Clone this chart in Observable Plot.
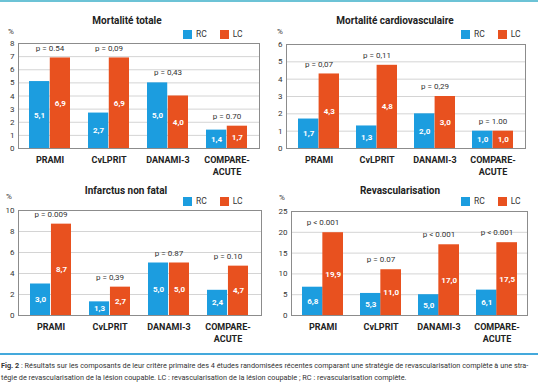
<!DOCTYPE html>
<html>
<head>
<meta charset="utf-8">
<script src="https://cdn.jsdelivr.net/npm/d3@7"></script>
<script src="https://cdn.jsdelivr.net/npm/@observablehq/plot@0.6"></script>
<style>
  html, body { margin: 0; padding: 0; background: #fff; }
  #root { position: relative; width: 538px; height: 384px; overflow: hidden; font-family: Roboto, "DejaVu Sans", sans-serif; color: #222; }
  .abs { position: absolute; }
  .title { font-weight: bold; font-size: 10px; color: #222; white-space: nowrap; transform: translate(-50%, -50%); }
  .pct { font-size: 8px; color: #333; transform: translate(-50%, -50%); }
  .leg { font-size: 8.5px; color: #333; display: flex; align-items: center; white-space: nowrap; transform: translateY(-50%); }
  .sw { display: inline-block; width: 9px; height: 9px; margin-right: 4px; }
  .caption { font-size: 7.3px; color: #333; white-space: nowrap; }
</style>
</head>
<body>
<div id="root"></div>
<script>
// ---------- data ----------
const categories = ["PRAMI", "CvLPRIT", "DANAMI-3", "COMPARE-ACUTE"];
const categoryLabels = ["PRAMI", "CvLPRIT", "DANAMI-3", "COMPARE-\nACUTE"];
const seriesNames = ["RC", "LC"];
const panelTitles = ["Mortalité totale", "Mortalité cardiovasculaire", "Infarctus non fatal", "Revascularisation"];

const mortTotaleRC = [5.1, 2.7, 5.0, 1.4];
const mortTotaleLC = [6.9, 6.9, 4.0, 1.7];
const mortTotaleP = ["p = 0.54", "p = 0,09", "p = 0,43", "p = 0.70"];
const mortTotaleTicks = [0, 1, 2, 3, 4, 5, 6, 7, 8];

const mortCardioRC = [1.7, 1.3, 2.0, 1.0];
const mortCardioLC = [4.3, 4.8, 3.0, 1.0];
const mortCardioP = ["p = 0,07", "p = 0,11", "p = 0,29", "p = 1.00"];
const mortCardioTicks = [0, 1, 2, 3, 4, 5, 6];

const infarctusRC = [3.0, 1.3, 5.0, 2.4];
const infarctusLC = [8.7, 2.7, 5.0, 4.7];
const infarctusP = ["p = 0.009", "p = 0,39", "p = 0.87", "p = 0.10"];
const infarctusTicks = [0, 2, 4, 6, 8, 10];

const revascRC = [6.8, 5.3, 5.0, 6.1];
const revascLC = [19.9, 11.0, 17.0, 17.5];
const revascP = ["p < 0.001", "p = 0.07", "p < 0.001", "p < 0.001"];
const revascTicks = [0, 5, 10, 15, 20, 25];

const captionLine1 = "Fig. 2 : Résultats sur les composants de leur critère primaire des 4 études randomisées récentes comparant une stratégie de revascularisation complète à une stra-";
const captionLine2 = "tégie de revascularisation de la lésion coupable. LC : revascularisation de la lésion coupable ; RC : revascularisation complète.";

// ---------- style ----------
const colorRC = "#1c9ddf";
const colorLC = "#e8511f";
const fmt = v => v.toFixed(1).replace(".", ",");

const root = document.getElementById("root");

function el(tag, cls, css, html) {
  const e = document.createElement(tag);
  if (cls) e.className = cls;
  Object.assign(e.style, css || {});
  if (html != null) e.innerHTML = html;
  root.appendChild(e);
  return e;
}

function panel(cfg) {
  const rows = categories.map((c, i) => ({cat: c, label: categoryLabels[i], rc: cfg.rc[i], lc: cfg.lc[i], p: cfg.p[i]}));
  const pi = 0.3, po = 0.18;
  const W = cfg.width - cfg.ml - cfg.mr;
  const bw = W / (categories.length - pi + 2 * po) * (1 - pi);
  const ymax = cfg.ticks[cfg.ticks.length - 1];
  const plot = Plot.plot({
    width: cfg.width,
    height: cfg.height,
    marginLeft: cfg.ml, marginRight: cfg.mr, marginTop: cfg.mt, marginBottom: cfg.mb,
    style: {fontFamily: "Roboto, sans-serif", fontSize: "8px", color: "#333", background: "transparent", overflow: "visible"},
    x: {domain: categories, paddingInner: pi, paddingOuter: po, axis: null},
    y: {domain: [0, ymax], ticks: cfg.ticks.length - 1, tickSize: 0, tickPadding: 4, label: null, tickFormat: d => String(d)},
    marks: [
      Plot.ruleY(cfg.ticks, {stroke: "#d4d4d4", strokeWidth: 1}),
      Plot.barY(rows, {x: "cat", y: "rc", fill: colorRC, insetRight: bw / 2}),
      Plot.barY(rows, {x: "cat", y: "lc", fill: colorLC, insetLeft: bw / 2}),
      Plot.frame({stroke: "#8c8c8c"}),
      Plot.text(rows, {x: "cat", y: d => d.rc / 2, text: d => fmt(d.rc), dx: -bw / 4, fill: "white", fontWeight: "bold", fontSize: 8}),
      Plot.text(rows, {x: "cat", y: d => d.lc / 2, text: d => fmt(d.lc), dx: bw / 4, fill: "white", fontWeight: "bold", fontSize: 8}),
      Plot.text(rows, {x: "cat", y: d => Math.max(d.rc, d.lc), text: "p", dy: -10, fill: "#333", fontSize: 8}),
      Plot.text(rows, {x: "cat", frameAnchor: "bottom", text: "label", lineAnchor: "top", dy: 6, lineHeight: 1.3, fill: "#222", fontWeight: "bold", fontSize: 9})
    ]
  });
  const holder = el("div", "abs", {left: cfg.left + "px", top: cfg.top + "px"});
  holder.appendChild(plot);

  el("div", "abs title", {left: cfg.titleX + "px", top: cfg.titleY + "px"}, cfg.title);
  el("div", "abs pct", {left: cfg.pctX + "px", top: cfg.pctY + "px"}, "%");
  el("div", "abs leg", {left: cfg.legX + "px", top: cfg.legY + "px"},
    `<span class="sw" style="background:${colorRC}"></span><span style="margin-right:13px">${seriesNames[0]}</span>` +
    `<span class="sw" style="background:${colorLC}"></span><span>${seriesNames[1]}</span>`);
}

// top rule
el("div", "abs", {left: "0px", top: "0px", width: "538px", height: "2px", background: "#6cc3d6"});

panel({title: panelTitles[0], rc: mortTotaleRC, lc: mortTotaleLC, p: mortTotaleP, ticks: mortTotaleTicks,
  left: 0, top: 40, width: 269, height: 140, ml: 18, mr: 10, mt: 3, mb: 32,
  titleX: 127, titleY: 20, pctX: 11, pctY: 31, legX: 183, legY: 34});
panel({title: panelTitles[1], rc: mortCardioRC, lc: mortCardioLC, p: mortCardioP, ticks: mortCardioTicks,
  left: 268, top: 40, width: 270, height: 140, ml: 18, mr: 13, mt: 4, mb: 32,
  titleX: 395, titleY: 20, pctX: 280, pctY: 31, legX: 461, legY: 34});
panel({title: panelTitles[2], rc: infarctusRC, lc: infarctusLC, p: infarctusP, ticks: infarctusTicks,
  left: 0, top: 205, width: 269, height: 140, ml: 18, mr: 8, mt: 5, mb: 30,
  titleX: 126, titleY: 190, pctX: 9, pctY: 196, legX: 183, legY: 201});
panel({title: panelTitles[3], rc: revascRC, lc: revascLC, p: revascP, ticks: revascTicks,
  left: 268, top: 205, width: 270, height: 140, ml: 23, mr: 11, mt: 6, mb: 30,
  titleX: 400, titleY: 190, pctX: 282, pctY: 197, legX: 461, legY: 201});

// bottom rule + caption
el("div", "abs", {left: "0px", top: "353px", width: "538px", height: "1.5px", background: "#44a9dc"});
el("div", "abs caption", {left: "1px", top: "361px"}, captionLine1.replace("Fig. 2 :", "<b>Fig. 2</b> :"));
el("div", "abs caption", {left: "1px", top: "373px"}, captionLine2);
</script>
</body>
</html>
